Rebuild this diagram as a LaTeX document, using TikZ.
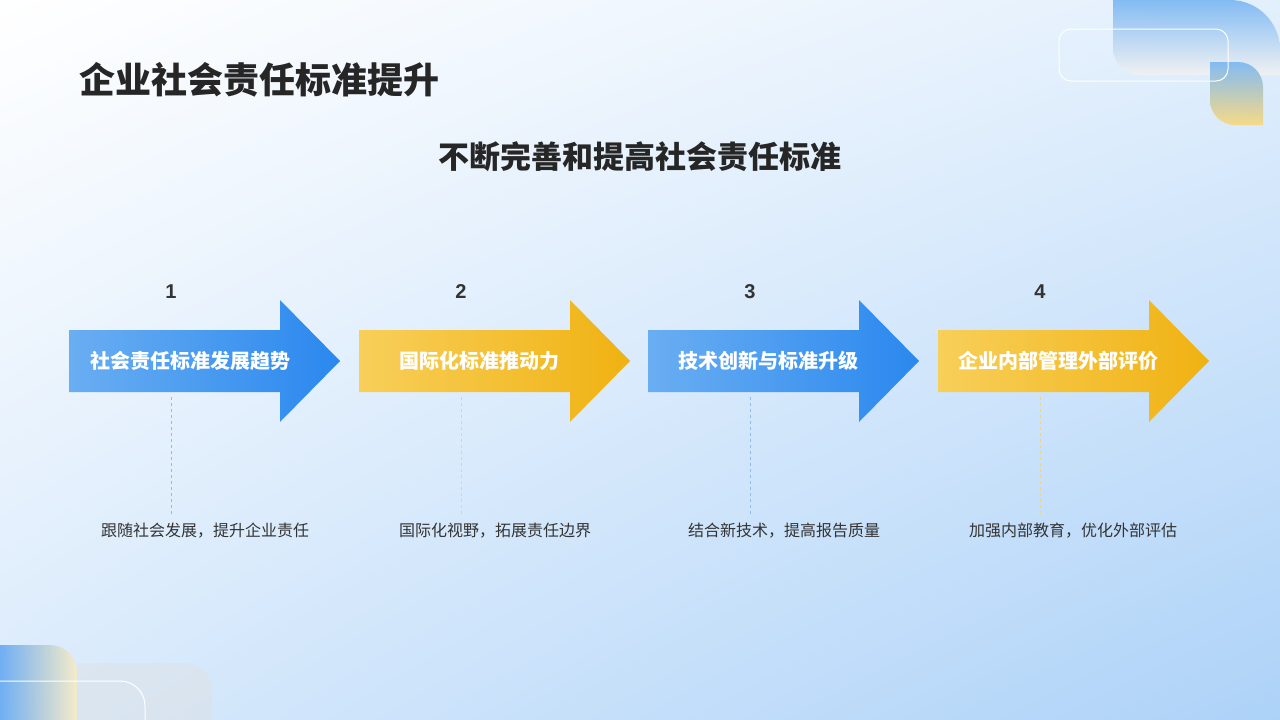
\documentclass[tikz,border=0pt]{standalone}
\usepackage{fontspec}
\setmainfont{Liberation Sans}
\newfontfamily\cjk{Noto Sans CJK SC}
\newcommand{\cjkb}{\cjk\bfseries}
\usetikzlibrary{shadings}
\definecolor{bl1}{HTML}{6AAEF2}
\definecolor{bl2}{HTML}{2A88EE}
\definecolor{ye1}{HTML}{F8CF5A}
\definecolor{ye2}{HTML}{F0B212}
\definecolor{bgb}{HTML}{ADD2F8}
\tikzset{
 lbl/.style={font=\cjkb\fontsize{20}{22}\selectfont, text=white},
 num/.style={font=\bfseries\fontsize{20}{22}\selectfont, text=black!80},
 captxt/.style={font=\cjk\fontsize{16}{18}\selectfont, text=black!80},
 dl/.style={dashed, line width=0.8pt},
}
\newcommand{\myarrow}[4]{% x, c1, c2, name
 \shade[left color=#2, right color=#3] (#1,330) -- (#1+211,330) -- (#1+211,300) -- (#1+271,361) -- (#1+211,422) -- (#1+211,392) -- (#1,392) -- cycle;
 \coordinate (#4) at (#1+102,361);
}
\begin{document}
\begin{tikzpicture}[x=1pt,y=-1pt]
\useasboundingbox (0,0) rectangle (1280,720);
\shade[upper left=white, lower right=bgb, upper right=bgb!35, lower left=bgb!45] (0,0) rectangle (1280,720);
% top-right decorations
\shade[top color=bl1!90, bottom color=gray!10, opacity=0.9] (1113,0) -- (1230,0) to[out=0,in=90] (1280,50) -- (1280,75) -- (1140,75) to[out=180,in=-90] (1113,48) -- cycle;
\shade[top color=bl1!90, bottom color=ye1!80, opacity=0.9] (1210,62) -- (1238,62) to[out=0,in=90] (1263,87) -- (1263,125) -- (1235,125) to[out=180,in=-90] (1210,100) -- cycle;
\draw[white, line width=1pt, rounded corners=12] (1059,29) rectangle (1228,81);
% bottom-left decorations
\shade[shading angle=45, left color=bl2!80, right color=ye1!40, opacity=0.8] (0,645) -- (50,645) to[out=0,in=90] (77,672) -- (77,720) -- (0,720) -- cycle;
\fill[gray!25, opacity=0.4] (77,663) -- (185,663) to[out=0,in=90] (212,690) -- (212,720) -- (77,720) -- cycle;
\draw[white, line width=1pt] (0,681) -- (120,681) to[out=0,in=90] (145,706) -- (145,720);
% titles
\node[font=\cjkb\fontsize{36}{38}\selectfont, text=black!85, anchor=west] (title) at (76,80) {企业社会责任标准提升};
\node[font=\cjkb\fontsize{31}{33}\selectfont, text=black!85] (sub) at (640,157) {不断完善和提高社会责任标准};
% arrows
\myarrow{69}{bl1}{bl2}{a1}
\myarrow{359}{ye1}{ye2}{a2}
\myarrow{648}{bl1}{bl2}{a3}
\myarrow{938}{ye1}{ye2}{a4}
\node[lbl] (l1) at (190,361) {社会责任标准发展趋势};
\node[lbl] (l2) at (479,361) {国际化标准推动力};
\node[lbl] (l3) at (768,361) {技术创新与标准升级};
\node[lbl] (l4) at (1058,361) {企业内部管理外部评价};
\node[num] (n1) at (171,292) {1};
\node[num] (n2) at (461,292) {2};
\node[num] (n3) at (750,292) {3};
\node[num] (n4) at (1040,292) {4};
\node[captxt] (c1) at (205,531) {跟随社会发展，提升企业责任};
\node[captxt] (c2) at (495,531) {国际化视野，拓展责任边界};
\node[captxt] (c3) at (784,531) {结合新技术，提高报告质量};
\node[captxt] (c4) at (1073,531) {加强内部教育，优化外部评估};
\coordinate (d1a) at (171,397); \coordinate (d1b) at (171,515);
\coordinate (d2a) at (461,397); \coordinate (d2b) at (461,515);
\coordinate (d3a) at (750,397); \coordinate (d3b) at (750,515);
\coordinate (d4a) at (1040,397); \coordinate (d4b) at (1040,515);
\draw[dl, bl1!80] (d1a) -- (d1b);
\draw[dl, ye1!90] (d2a) -- (d2b);
\draw[dl, bl1!80] (d3a) -- (d3b);
\draw[dl, ye1!90] (d4a) -- (d4b);
\end{tikzpicture}
\end{document}
